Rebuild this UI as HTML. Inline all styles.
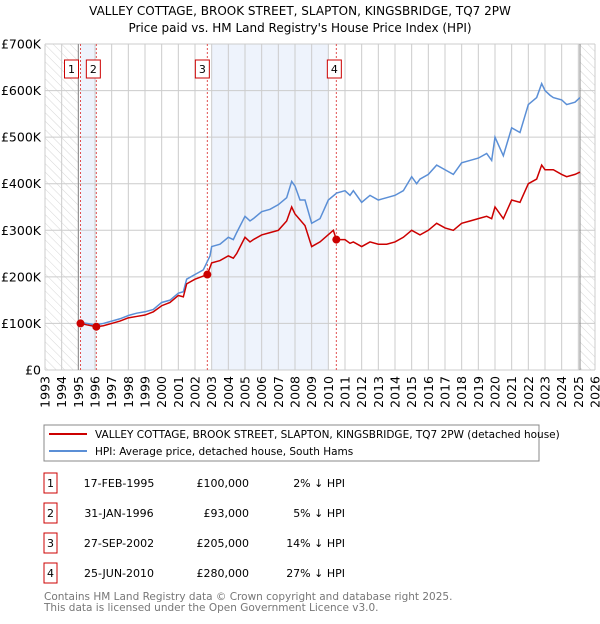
<!DOCTYPE html>
<html><head><meta charset="utf-8"><style>
body{margin:0;background:#fff;font-family:"DejaVu Sans","Liberation Sans",sans-serif;}
svg text{font-family:"DejaVu Sans","Liberation Sans",sans-serif;}
</style></head><body>
<svg id="chart" width="600" height="620" viewBox="0 0 600 620">
<defs><pattern id="hatch" width="6" height="6" patternUnits="userSpaceOnUse" patternTransform="rotate(-45)"><line x1="0" y1="0" x2="0" y2="6" stroke="#ccc" stroke-width="0.8"/></pattern></defs>
<text x="300" y="15" text-anchor="middle" font-size="12" fill="#000">VALLEY COTTAGE, BROOK STREET, SLAPTON, KINGSBRIDGE, TQ7 2PW</text>
<text x="300" y="32" text-anchor="middle" font-size="12" fill="#000">Price paid vs. HM Land Registry's House Price Index (HPI)</text>
<g id="plot"></g>
<g>
<rect x="44" y="425" width="495" height="36" fill="#fff" stroke="#888" stroke-width="1"/>
<line x1="49" y1="434" x2="87" y2="434" stroke="#cc0000" stroke-width="2"/>
<text x="95" y="438" font-size="10.5">VALLEY COTTAGE, BROOK STREET, SLAPTON, KINGSBRIDGE, TQ7 2PW (detached house)</text>
<line x1="49" y1="451" x2="87" y2="451" stroke="#5b8fd6" stroke-width="2"/>
<text x="95" y="455" font-size="10.5">HPI: Average price, detached house, South Hams</text>
</g>
<g id="table" font-size="11"></g>
<text x="44" y="600" font-size="10.5" fill="#777">Contains HM Land Registry data © Crown copyright and database right 2025.</text>
<text x="44" y="611" font-size="10.5" fill="#777">This data is licensed under the Open Government Licence v3.0.</text>
</svg>
<script>
const hpiYears=[1995.1,1995.5,1996,1996.5,1997,1997.5,1998,1998.5,1999,1999.5,2000,2000.5,2001,2001.3,2001.5,2002,2002.5,2002.9,2003,2003.5,2004,2004.3,2004.5,2005,2005.3,2005.5,2006,2006.5,2007,2007.5,2007.8,2008,2008.3,2008.6,2009,2009.5,2010,2010.5,2011,2011.3,2011.5,2012,2012.5,2013,2013.5,2014,2014.5,2015,2015.3,2015.5,2016,2016.5,2017,2017.5,2018,2018.5,2019,2019.5,2019.8,2020,2020.5,2021,2021.5,2022,2022.5,2022.8,2023,2023.3,2023.5,2024,2024.3,2024.8,2025.1];
const hpiValues=[102,100,97,100,105,110,117,122,125,130,145,150,165,168,195,205,215,245,265,270,285,280,295,330,320,325,340,345,355,370,405,395,365,365,315,325,365,380,385,375,385,360,375,365,370,375,385,415,400,410,420,440,430,420,445,450,455,465,450,500,460,520,510,570,585,615,600,590,585,580,570,575,585];
const propYears=[1995.13,1995.5,1996.08,1996.5,1997,1997.5,1998,1998.5,1999,1999.5,2000,2000.5,2001,2001.3,2001.5,2002,2002.74,2003,2003.5,2004,2004.3,2004.5,2005,2005.3,2005.5,2006,2006.5,2007,2007.5,2007.8,2008,2008.6,2009,2009.5,2010.3,2010.48,2011,2011.3,2011.5,2012,2012.5,2013,2013.5,2014,2014.5,2015,2015.5,2016,2016.5,2017,2017.5,2018,2018.5,2019,2019.5,2019.8,2020,2020.5,2021,2021.5,2022,2022.5,2022.8,2023,2023.5,2024,2024.3,2024.8,2025.1];
const propValues=[100,97,93,95,100,105,112,115,118,125,138,145,160,157,185,195,205,230,235,245,240,250,285,275,280,290,295,300,320,350,335,310,265,275,300,280,280,272,275,265,275,270,270,275,285,300,290,300,315,305,300,315,320,325,330,325,350,325,365,360,400,410,440,430,430,420,415,420,425];
const saleYears=[1995.13,1996.08,2002.74,2010.48];
const saleValues=[100,93,205,280];
const saleLabels=["1","2","3","4"];
const saleDates=["17-FEB-1995","31-JAN-1996","27-SEP-2002","25-JUN-2010"];
const salePrices=["£100,000","£93,000","£205,000","£280,000"];
const saleDiffs=["2% ↓ HPI","5% ↓ HPI","14% ↓ HPI","27% ↓ HPI"];
const yTicks=[0,100,200,300,400,500,600,700];
const yTickLabels=["£0","£100K","£200K","£300K","£400K","£500K","£600K","£700K"];
const xMin=1993,xMax=2026,L=45,R=595,T=44,B=370;
const X=y=>L+(y-xMin)/(xMax-xMin)*(R-L);
const Y=v=>B-v/700*(B-T);
const NS="http://www.w3.org/2000/svg";
const plot=document.getElementById('plot');
function mk(tag,attrs,parent){const e=document.createElementNS(NS,tag);for(const k in attrs)e.setAttribute(k,attrs[k]);(parent||plot).appendChild(e);return e;}
let e;
e=mk('rect',{x:L,y:T,width:R-L,height:B-T,fill:'#fff'});


e=mk('rect',{x:L,y:T,width:X(1995)-L,height:B-T,fill:'url(#hatch)'});


e=mk('rect',{x:X(2025.1),y:T,width:R-X(2025.1),height:B-T,fill:'url(#hatch)'});


e=mk('rect',{x:X(saleYears[0]),y:T,width:X(saleYears[1])-X(saleYears[0]),height:B-T,fill:'#eef3fc'});


e=mk('rect',{x:X(2003),y:T,width:X(2010)-X(2003),height:B-T,fill:'#eef3fc'});


for(let yr=xMin;yr<=xMax;yr++){
 e=mk('line',{x1:X(yr),x2:X(yr),y1:T,y2:B,stroke:'#ccc','stroke-width':1});
 
 
 e=mk('text',{x:0,y:0,'font-size':12.5,'text-anchor':'end',transform:`translate(${X(yr)+4.5},${B+6}) rotate(-90)`});
 e.textContent=yr;
 
 
}
yTicks.forEach((v,i)=>{
 e=mk('line',{x1:L,x2:R,y1:Y(v),y2:Y(v),stroke:'#ccc','stroke-width':1});
 
 
 e=mk('text',{x:L-4,y:Y(v)+4.5,'font-size':12.5,'text-anchor':'end'});
 e.textContent=yTickLabels[i];
 
 
});
e=mk('line',{x1:X(1995),x2:X(1995),y1:T,y2:B,stroke:'#888','stroke-width':1});


e=mk('line',{x1:X(2025.1),x2:X(2025.1),y1:T,y2:B,stroke:'#888','stroke-width':1});


saleYears.forEach((yr,i)=>{
 e=mk('line',{x1:X(yr),x2:X(yr),y1:T,y2:B,stroke:'#e05050','stroke-width':1,'stroke-dasharray':'2,2'});
 
 
});
e=mk('polyline',{points:hpiYears.map((y,i)=>X(y)+','+Y(hpiValues[i])).join(' '),fill:'none',stroke:'#5b8fd6','stroke-width':1.5});


e=mk('polyline',{points:propYears.map((y,i)=>X(y)+','+Y(propValues[i])).join(' '),fill:'none',stroke:'#cc0000','stroke-width':1.5});


const boxX=[X(saleYears[0])-9,X(saleYears[1])-3,X(saleYears[2])-5,X(saleYears[3])-2];
saleYears.forEach((yr,i)=>{
 e=mk('circle',{cx:X(yr),cy:Y(saleValues[i]),r:4,fill:'#cc0000'});
 
 
 e=mk('rect',{x:boxX[i]-7,y:60,width:14,height:18,fill:'#fff',stroke:'#cc0000','stroke-width':1});
 
 
 e=mk('text',{x:boxX[i],y:73,'font-size':11,'text-anchor':'middle'});
 e.textContent=saleLabels[i];
 
 
});
const tbl=document.getElementById('table');
saleLabels.forEach((l,i)=>{
 const cy=483+i*30;
 e=mk('rect',{x:44,y:cy-10,width:13,height:20,fill:'#fff',stroke:'#cc0000','stroke-width':1},tbl);
 
 
 e=mk('text',{x:50.5,y:cy+4,'text-anchor':'middle'},tbl);e.textContent=l;
 
 
 e=mk('text',{x:119,y:cy+4,'text-anchor':'middle'},tbl);e.textContent=saleDates[i];
 
 
 e=mk('text',{x:249,y:cy+4,'text-anchor':'end'},tbl);e.textContent=salePrices[i];
 
 
 e=mk('text',{x:345,y:cy+4,'text-anchor':'end'},tbl);e.textContent=saleDiffs[i];
 
 
});
</script>
</body></html>
